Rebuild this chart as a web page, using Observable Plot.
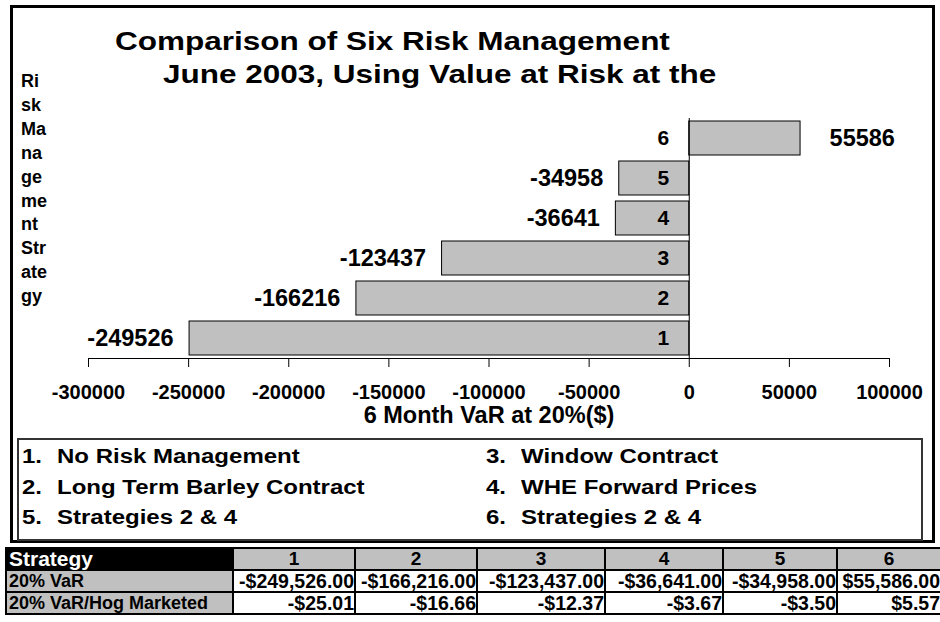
<!DOCTYPE html>
<html>
<head>
<meta charset="utf-8">
<script src="https://cdn.jsdelivr.net/npm/d3@7"></script>
<script src="https://cdn.jsdelivr.net/npm/@observablehq/plot@0.6"></script>
<style>
  html, body { margin: 0; padding: 0; background: #fff; }
  #wrap { position: relative; width: 940px; height: 622px; overflow: hidden; background: #fff;
          font-family: 'Liberation Sans', Arial, Helvetica, sans-serif; font-weight: bold; color: #000; }
  .abs { position: absolute; white-space: nowrap; }
  #frame { position: absolute; left: 10px; top: 5px; width: 925px; height: 538px; border: 3px solid #000; box-sizing: border-box; }
  .title { font-size: 25px; line-height: 25px; transform: scaleX(1.26); transform-origin: 0 0; }
  #ytitle { left: 21px; top: 70px; font-size: 18px; line-height: 23.9px; }
  #legend { position: absolute; left: 17px; top: 438px; width: 906px; height: 103px; border: 2px solid #333; box-sizing: border-box; }
  .leg { font-size: 20px; line-height: 20px; transform: scaleX(1.2); transform-origin: 0 0; }
  #tbl { position: absolute; left: 5px; top: 547px; border-collapse: collapse; table-layout: fixed; }
  #tbl td { border: 2px solid #000; height: 20px; padding: 0 1px; font-size: 19.5px; line-height: 20px; white-space: nowrap; overflow: hidden; }
  #tbl td.hd0 { background: #000; color: #fff; text-align: left; font-size: 21px; padding-left: 2px; overflow: visible; }
  #tbl td.hd { background: #c0c0c0; text-align: center; font-size: 19px; }
  #tbl td.rl { background: #c0c0c0; text-align: left; padding-left: 2px; font-size: 18px; }
  #tbl td.val { background: #fff; text-align: right; padding-right: 0px; }
  svg { position: absolute; left: 0; top: 0; }
</style>
</head>
<body>
<div id="wrap">
  <div id="frame"></div>
</div>
<script>
// ---- data ----
const titleLines = ["Comparison of Six Risk Management", "June 2003, Using Value at Risk at the"];
const yTitleLines = ["Ri", "sk", "Ma", "na", "ge", "me", "nt", "Str", "ate", "gy"];
const xLabel = "6 Month VaR at 20%($)";
const strategies = ["1", "2", "3", "4", "5", "6"];
const varValues = [-249526, -166216, -123437, -36641, -34958, 55586];
const varPerHog = [-25.01, -16.66, -12.37, -3.67, -3.50, 5.57];
const xTicks = [-300000, -250000, -200000, -150000, -100000, -50000, 0, 50000, 100000];
const legendNames = ["No Risk Management", "Long Term Barley Contract", "Window Contract",
                     "WHE Forward Prices", "Strategies 2 & 4", "Strategies 2 & 4"];
const legendGrid = [["1", "3"], ["2", "4"], ["5", "6"]];
const tableHeader = "Strategy";
const rowLabels = ["20% VaR", "20% VaR/Hog Marketed"];

const data = strategies.map((s, i) => ({strategy: s, value: varValues[i]}));
const wrap = document.getElementById("wrap");

// ---- chart ----
const chart = Plot.plot({
  width: 940,
  height: 430,
  marginLeft: 88,
  marginRight: 51,
  marginTop: 118,
  marginBottom: 72,
  style: {fontFamily: "'Liberation Sans', Arial, sans-serif", fontWeight: "bold", fontSize: "20px",
          color: "#000", background: "transparent", overflow: "visible"},
  x: {domain: [-300000, 100000]},
  y: {domain: strategies.slice().reverse(), paddingInner: 0.15, paddingOuter: 0.075, axis: null},
  marks: [
    Plot.barX(data, {x: "value", y: "strategy", fill: "#c0c0c0", stroke: "#000", strokeWidth: 1}),
    Plot.ruleX([0], {stroke: "#000", strokeWidth: 1}),
    Plot.frame({anchor: "bottom", stroke: "#000", strokeWidth: 1}),
    Plot.axisX({ticks: xTicks, tickSize: 9, tickPadding: 17, tickFormat: d => String(d), label: null,
                stroke: "#000", fontSize: 20, fontWeight: "bold"}),
    Plot.text(data, {x: 0, y: "strategy", text: "strategy", textAnchor: "end", dx: -20, fontSize: 21}),
    Plot.text(data.filter(d => d.value < 0), {x: "value", y: "strategy", text: d => String(d.value),
              textAnchor: "end", dx: -16, fontSize: 23.5}),
    Plot.text(data.filter(d => d.value >= 0), {x: "value", y: "strategy", text: d => String(d.value),
              textAnchor: "start", dx: 29, fontSize: 23.5}),
    Plot.text([xLabel], {text: d => d, frameAnchor: "bottom", dy: 64, fontSize: 23.5})
  ]
});
wrap.appendChild(chart);

// ---- title ----
const titlePos = [{left: 115, top: 29}, {left: 163, top: 62}];
titleLines.forEach((t, i) => {
  const d = document.createElement("div");
  d.className = "abs title";
  d.style.left = titlePos[i].left + "px";
  d.style.top = titlePos[i].top + "px";
  d.textContent = t;
  wrap.appendChild(d);
});

// ---- y title ----
const yt = document.createElement("div");
yt.className = "abs";
yt.id = "ytitle";
yt.innerHTML = yTitleLines.join("<br>");
wrap.appendChild(yt);

// ---- legend ----
const leg = document.createElement("div");
leg.id = "legend";
wrap.appendChild(leg);
const colPos = [{num: 22, txt: 57}, {num: 486, txt: 521}];
const rowTops = [446, 476.5, 507];
legendGrid.forEach((row, r) => {
  row.forEach((k, c) => {
    const n = document.createElement("div");
    n.className = "abs leg";
    n.style.left = colPos[c].num + "px";
    n.style.top = rowTops[r] + "px";
    n.textContent = k + ".";
    wrap.appendChild(n);
    const t = document.createElement("div");
    t.className = "abs leg";
    t.style.left = colPos[c].txt + "px";
    t.style.top = rowTops[r] + "px";
    t.textContent = legendNames[+k - 1];
    wrap.appendChild(t);
  });
});

// ---- table ----
const fmt = d3.format(",.2f");
const money = v => (v < 0 ? "-" : "") + "$" + fmt(Math.abs(v));
const colWidths = [227, 122, 122, 128, 118, 114, 104];
const tbl = document.createElement("table");
tbl.id = "tbl";
const cg = document.createElement("colgroup");
colWidths.forEach(w => { const c = document.createElement("col"); c.style.width = w + "px"; cg.appendChild(c); });
tbl.appendChild(cg);
tbl.style.width = d3.sum(colWidths) + "px";
function addRow(cells) {
  const tr = document.createElement("tr");
  cells.forEach(([text, cls]) => {
    const td = document.createElement("td");
    td.className = cls;
    td.textContent = text;
    tr.appendChild(td);
  });
  tbl.appendChild(tr);
}
addRow([[tableHeader, "hd0"], ...strategies.map(s => [s, "hd"])]);
addRow([[rowLabels[0], "rl"], ...varValues.map(v => [money(v), "val"])]);
addRow([[rowLabels[1], "rl"], ...varPerHog.map(v => [money(v), "val"])]);
wrap.appendChild(tbl);
</script>
</body>
</html>
